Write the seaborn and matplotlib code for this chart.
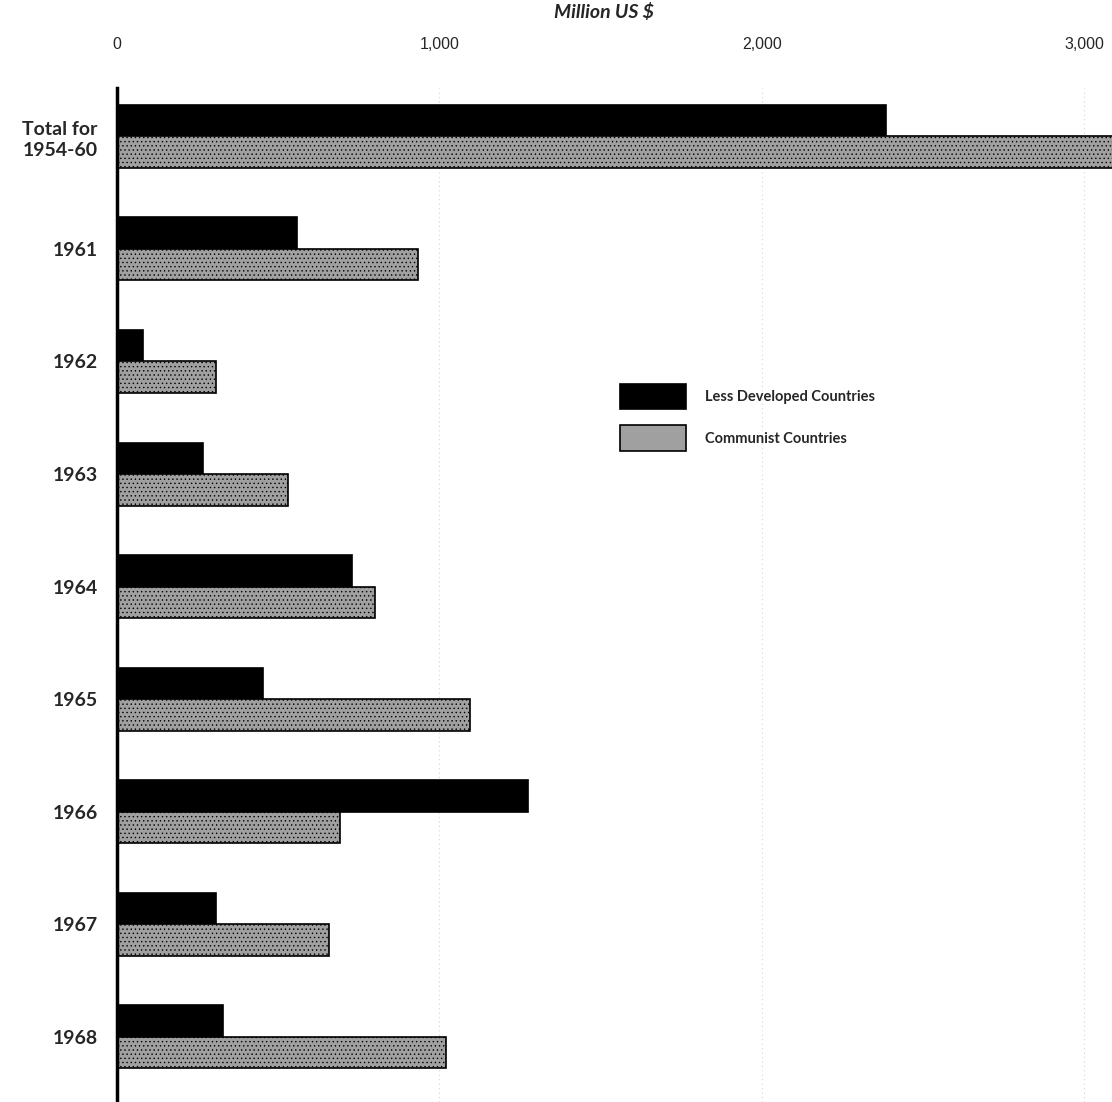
import pandas as pd
import matplotlib.pyplot as plt
import seaborn as sns

# categories and values (million US $)
years = ['Total for\n1954-60', '1961', '1962', '1963', '1964', '1965', '1966', '1967', '1968']
less_developed = [2386, 558, 81, 267, 729, 453, 1275, 307, 329]
communist = [3090, 934, 307, 531, 800, 1095, 692, 658, 1021]
series = ['Less Developed Countries', 'Communist Countries']
xticks = [0, 1000, 2000, 3000]
xtick_labels = ['0', '1,000', '2,000', '3,000']

df = pd.DataFrame({
    'year': years * 2,
    'value': less_developed + communist,
    'group': [series[0]] * len(years) + [series[1]] * len(years),
})

sns.set_style('white')
plt.rcParams['font.family'] = ['Lato', 'DejaVu Sans']
plt.rcParams['hatch.color'] = '#787878'
plt.rcParams['hatch.linewidth'] = 0.5

fig = plt.figure(figsize=(11.12, 11.02), dpi=100)
ax = fig.add_axes([117 / 1112, 0, 1 - 117 / 1112, 1 - 88 / 1102])

sns.barplot(data=df, y='year', x='value', hue='group', hue_order=series,
            palette=['black', '#a0a0a0'], width=0.56, orient='h',
            edgecolor='black', linewidth=1.2, saturation=1, ax=ax)

# stippled look for the communist bars
for bar in ax.containers[1]:
    bar.set_hatch('....')
    bar.set_edgecolor('black')

ax.set_xlim(0, 3087)
ax.set_ylim(8.58, -0.43)
ax.set_xlabel('')
ax.set_ylabel('')

ax.xaxis.tick_top()
ax.set_xticks(xticks)
ax.set_xticklabels(xtick_labels, fontsize=11.5, family=['Liberation Sans', 'DejaVu Sans'])
ax.tick_params(axis='x', length=0, pad=26)
ax.tick_params(axis='y', length=0, pad=14)
for lbl in ax.get_yticklabels():
    lbl.set_fontsize(14)
    lbl.set_fontweight('bold')
    lbl.set_linespacing(1.3)

for x in xticks[1:]:
    ax.axvline(x, color='#d4d4d4', linestyle=(0, (1, 3)), linewidth=0.8, zorder=0)

for side in ['top', 'right', 'bottom']:
    ax.spines[side].set_visible(False)
ax.spines['left'].set_linewidth(2.5)
ax.spines['left'].set_color('black')

fig.text(604 / 1112, 1 - 12 / 1102, 'Million US $', ha='center', va='center',
         fontsize=14, style='italic', fontweight='bold')

leg = ax.legend(loc='upper left', bbox_to_anchor=(620 / 1112, 1 - 384 / 1102),
                bbox_transform=fig.transFigure, frameon=False, fontsize=10.5,
                handlelength=4.5, handleheight=2.3, handletextpad=1.3,
                labelspacing=1.1, borderpad=0, borderaxespad=0)
for t in leg.get_texts():
    t.set_fontweight('bold')

fig.savefig('out.png', dpi=100)
